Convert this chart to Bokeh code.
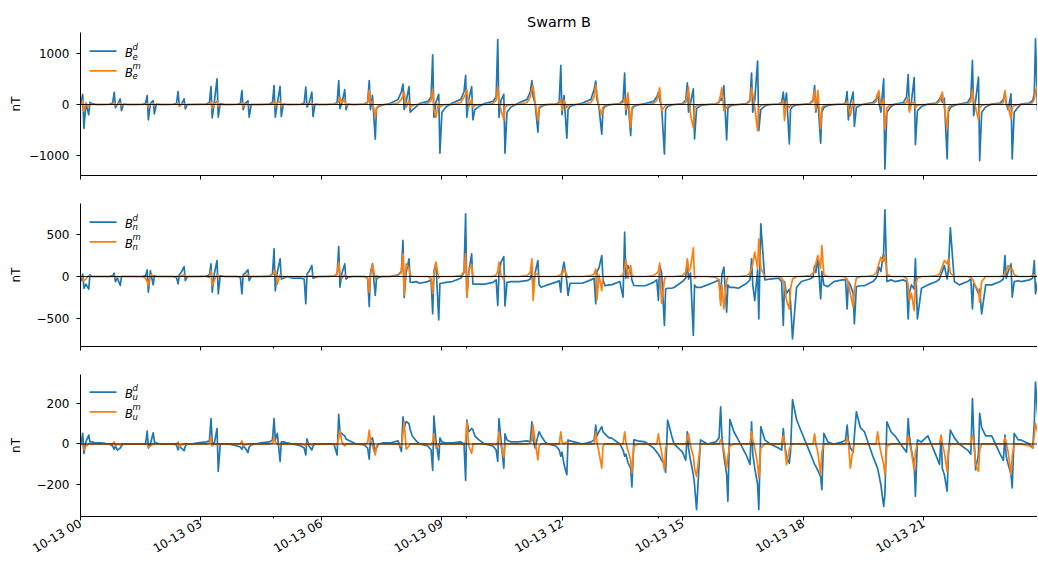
import math
from bokeh.plotting import figure
from bokeh.layouts import column
from bokeh.models import Range1d, FixedTicker, Label, Span, Arrow
from bokeh.embed import file_html
from bokeh.resources import INLINE

# ---------------- data ----------------
# time of the first spike of each polar pass, hours after 10-13 00:00
event_hours = [0.055, 0.84, 1.66, 2.43, 3.25, 4.02, 4.82, 5.61, 6.43, 7.19,
               8.03, 8.77, 9.59, 10.39, 11.24, 11.96, 12.83, 13.55, 14.39, 15.11,
               15.94, 16.71, 17.50, 18.28, 19.09, 19.85, 20.61, 21.43, 22.21, 23.02,
               23.75]
# sample times within a pass, hours relative to the first spike
offsets = [-0.33, -0.12, -0.04, 0.00, 0.03, 0.08, 0.15, 0.18, 0.23, 0.33]

be_d = [
    [0, 10, 40, 200, -470, 30, -200, 40, 20, 0],
    [0, 5, 30, 240, -60, 0, 110, -120, 10, 0],
    [0, 5, 20, 176, -300, 20, 78, -183, 10, 0],
    [0, 5, 20, 255, -20, 0, 111, -85, 0, 0],
    [5, 10, 40, 353, -261, 30, 503, -248, 20, 0],
    [0, 5, 20, 274, -100, 20, 70, -248, 0, 0],
    [0, 10, 40, 372, -248, 20, 353, -235, 10, 0],
    [0, 5, 30, 340, -50, 20, 242, -235, 10, 0],
    [0, 10, 40, 470, -80, 30, 290, -100, 10, 0],
    [0, 10, 50, 470, -100, 180, -680, -80, -40, -10],
    [20, 100, 250, 400, -100, 60, 350, -150, -110, -40],
    [20, 60, 150, 974, -250, 40, 200, -954, -150, -50],
    [30, 100, 250, 570, -250, 100, 350, -300, -100, -40],
    [20, 60, 150, 1270, -250, 80, 200, -954, -150, -50],
    [30, 100, 250, 470, 150, 20, -540, -80, -40, -10],
    [0, 10, 40, 765, -200, 176, -660, -100, -40, -10],
    [30, 100, 300, 460, 100, -50, -580, -100, -40, -10],
    [0, 20, 80, 614, -200, 150, -608, -100, -40, -10],
    [20, 60, 150, 242, 100, -50, -970, -100, -40, -10],
    [0, 20, 80, 425, -150, 30, 307, -673, -80, -20],
    [0, 10, 50, 111, 80, 372, -693, -80, -30, -10],
    [0, 20, 80, 614, -150, 100, 850, -510, -100, -30],
    [0, 10, 40, 242, -60, 222, -771, -100, -40, -10],
    [0, 20, 80, 372, -150, 100, -758, -150, -60, -20],
    [0, 10, 30, 255, -300, 20, 242, -431, -60, -10],
    [10, 40, 100, 209, 50, -150, 503, -1261, -150, -40],
    [10, 40, 150, 588, -100, 50, 529, -784, -120, -40],
    [10, 30, 100, 176, 40, 120, -1065, -150, -60, -20],
    [10, 40, 150, 863, -216, 80, 536, -1098, -150, -50],
    [10, 30, 100, 242, 20, -100, 209, -1065, -150, -50],
    [10, 30, 80, 200, 1288, -118, 0, 0, 0, 0],
]
be_m = [
    [0, 0, 10, 80, -130, 20, -40, 10, 0, 0],
    [0, 0, 10, 40, -20, 0, 30, -30, 0, 0],
    [0, 0, 5, 20, -60, 0, 20, -20, 0, 0],
    [0, 0, 5, 30, -40, 0, 10, -20, 0, 0],
    [0, 0, 10, 60, -80, 0, 70, -40, 0, 0],
    [0, 0, 5, 40, -50, 0, 20, -20, 0, 0],
    [0, 0, 10, 60, -40, 30, 60, -40, 0, 0],
    [0, 0, 5, 20, -10, 0, 30, -20, 0, 0],
    [0, 5, 20, 60, 150, 40, 100, -30, 0, 0],
    [0, 5, 30, 280, 20, 60, -250, -80, -20, 0],
    [0, 30, 100, 180, 250, -50, 80, -60, -20, 0],
    [0, 20, 80, 300, -100, -250, 50, -50, -20, 0],
    [0, 40, 150, 200, 300, -50, 100, -50, -20, 0],
    [0, 20, 80, 350, 50, -100, -300, -50, -20, 0],
    [0, 40, 150, 300, 372, 50, -314, -50, -20, 0],
    [0, 0, 20, 100, -118, 80, -60, -20, 0, 0],
    [0, 40, 150, 380, 200, -50, -200, -50, -20, 0],
    [0, 10, 40, 120, -100, 230, -444, -60, -20, 0],
    [0, 20, 80, 200, 327, -118, -50, -20, 0, 0],
    [0, 10, 40, 200, 340, -200, -457, -60, -20, 0],
    [0, 10, 40, 200, 327, -118, -60, -20, 0, 0],
    [0, 10, 60, 327, 200, -50, -510, -60, -20, 0],
    [0, 5, 20, 80, -314, 60, -60, -20, 0, 0],
    [0, 10, 60, 274, -100, 274, -477, -60, -20, 0],
    [0, 5, 20, 60, -50, -216, 60, -40, 0, 0],
    [0, 10, 60, 200, 274, -30, 100, -477, -60, 0],
    [0, 10, 40, 144, -150, 30, 40, -60, -20, 0],
    [0, 10, 60, 150, 242, -50, -477, -60, -20, 0],
    [0, 10, 60, 288, 80, -60, -300, -60, -20, 0],
    [0, 10, 40, 274, 30, -40, -281, -50, -20, 0],
    [0, 10, 40, 100, 250, 372, 0, 0, 0, 0],
]
bn_d = [
    [0, 0, -50, 30, -140, -90, -150, 20, 0, 0],
    [0, 0, 10, 40, -60, -20, -107, 0, 0, 0],
    [0, 0, 10, 79, -187, 70, -100, 10, 0, 0],
    [0, 0, -10, -87, 20, 50, 119, -50, 0, 0],
    [0, 5, 20, 150, -186, 30, 190, -206, 10, 0],
    [0, 0, -10, -206, 20, 40, 79, -50, 0, 0],
    [0, 5, 30, 329, -170, 50, 210, -30, -20, 0],
    [-20, -20, -30, -325, 30, 60, 131, -20, -10, 0],
    [0, 5, 30, 357, -127, 40, 150, -30, -10, 0],
    [0, 0, -20, -357, 40, 151, -226, -30, -10, 0],
    [0, 20, 60, 429, -250, 50, 210, -67, -70, -60],
    [-80, -60, -40, -444, 60, 160, -516, -80, -80, -70],
    [-60, -20, 50, 746, -246, 60, 270, -90, -90, -90],
    [-90, -70, -40, -345, 40, 170, 238, -350, -70, -60],
    [-60, -50, -30, 60, -120, 40, 190, -100, -127, -110],
    [-100, -67, -50, -187, 50, 170, -60, -226, -80, -80],
    [-80, -40, -20, -325, 60, 100, 250, -40, -110, -100],
    [-100, -60, -246, 528, -20, 130, 60, -40, -107, -110],
    [-110, -70, -40, -286, 131, 50, -583, -150, -140, -140],
    [-130, -60, -20, 190, -30, 40, -702, -100, -130, -130],
    [-100, -60, -40, -286, 20, 111, -425, -100, -130, -130],
    [-140, -80, -40, 210, -100, -286, 80, -504, 627, -40],
    [-30, -20, -60, -583, -60, -200, -150, -300, -742, -130],
    [-60, -30, -10, 131, 50, 230, -266, 60, -100, -120],
    [-60, -40, -40, -385, -60, -100, -200, -563, -120, -110],
    [-110, -60, -20, 30, 111, 60, 290, 794, -60, -40],
    [-60, -40, -60, -504, -200, -100, -150, 210, -504, -140],
    [-100, -60, -30, 30, 60, 131, -30, 80, 579, -60],
    [-100, -60, -30, -385, -80, -120, -200, -150, -444, -100],
    [-100, -60, -30, 250, -20, 60, 150, -246, -60, -50],
    [-60, -40, -20, 190, -206, -60, -40, 0, 0, 0],
]
bn_m = [
    [0, 0, -10, -20, -50, -30, 10, 0, 0, 0],
    [0, 0, 0, 5, -10, 0, -5, 0, 0, 0],
    [0, 0, -20, -60, -107, 20, 10, 0, 0, 0],
    [0, 0, 0, 10, -10, 10, 20, 0, 0, 0],
    [0, 0, -10, 70, -107, -50, 30, 10, 0, 0],
    [0, 0, 0, -10, 0, 10, 20, 0, 0, 0],
    [0, 0, 20, 40, 80, -90, 20, 0, 0, 0],
    [0, 0, 0, -10, 0, 5, 10, 0, 0, 0],
    [0, 5, 30, 170, 30, -20, 20, 0, 0, 0],
    [0, 0, -20, -187, 20, 140, -30, 10, 0, 0],
    [0, 10, 50, 270, -226, 150, 100, 20, 0, 0],
    [0, 0, -20, -200, 40, 170, -20, 0, 0, 0],
    [0, 10, 60, 270, -246, 80, 140, 10, 0, 0],
    [0, 0, 20, 60, 170, 20, -40, 10, 0, 0],
    [0, 10, 50, 210, -286, 40, 20, 0, 0, 0],
    [0, 0, 10, 30, 20, 91, 20, -10, 0, 0],
    [0, 10, 30, 90, -278, 20, -167, 0, 0, 0],
    [0, 0, 20, 100, 198, -20, 131, 20, 0, 0],
    [0, 10, 40, 60, 159, -317, -40, 0, 0, 0],
    [0, 10, 50, 210, 60, 100, 341, -20, 0, 0],
    [0, -10, -40, -345, -100, -385, -50, 0, 0, 0],
    [0, 10, 40, 100, 150, 290, 100, 448, 100, 0],
    [0, 0, -20, -50, -100, -286, -385, -150, -30, 0],
    [0, 10, 40, 80, 150, 250, 100, 369, 20, 0],
    [0, 0, -10, -30, -80, -206, -365, -150, -20, 0],
    [0, 10, 40, 100, 150, 230, 180, 262, 30, 0],
    [0, 0, -20, -100, -286, -200, -405, -100, -20, 0],
    [0, 10, 30, 80, 120, 190, 150, 210, 40, 0],
    [0, 0, -10, -30, -60, -120, -167, -306, -60, 0],
    [0, 0, 10, 30, 60, 131, 80, 91, 20, 0],
    [0, 0, 10, 20, 10, 0, 0, 0, 0, 0],
]
bu_d = [
    [0, 0, 0, 52, -46, 10, 44, 10, 10, 5],
    [5, 0, -10, -26, -10, -30, -20, -10, 0, 0],
    [0, 0, 0, 63, -20, 0, 55, 10, 5, 0],
    [0, 0, -5, -29, -10, -20, -33, -10, 0, 0],
    [5, 10, 15, 125, 10, 0, 76, -135, 0, 0],
    [0, -10, -15, -26, -10, -20, -42, -15, -5, 0],
    [5, 10, 20, 125, 20, 52, -86, 10, 10, 5],
    [0, -10, -20, -54, 25, -10, -30, -10, 0, 0],
    [0, 0, -54, 145, 60, 50, 40, 25, 20, 10],
    [0, -5, -20, -75, 20, 30, -40, -20, 0, 5],
    [5, 15, -37, 133, 80, 110, 100, 70, 40, 15],
    [0, -10, -30, -130, 137, 20, -78, 30, 10, 5],
    [5, 10, 0, -179, 117, 60, 76, 70, 40, 20],
    [0, -10, -30, -86, 125, 20, -119, 50, 20, 10],
    [10, 15, 10, 109, 20, -20, 40, 60, 40, 10],
    [0, -10, -30, -60, -40, -100, -151, 20, 15, 10],
    [0, 10, 20, 93, 40, 60, 85, 60, 50, 30],
    [30, 0, -30, -60, -50, -90, -120, -211, 20, 15],
    [10, -20, -40, -50, -60, -80, -100, -140, 117, 40],
    [0, -40, -80, 60, -20, -80, -150, -200, -322, 20],
    [0, 10, 30, 182, 40, -60, -150, -281, 120, 60],
    [20, -60, -100, 109, -50, -120, -200, -322, 85, 20],
    [0, -20, -30, 76, 0, -60, -94, -40, 218, 120],
    [60, -40, -80, -100, -110, -130, -160, -224, 52, 10],
    [0, 10, 20, 93, 20, -20, -40, 40, 158, 80],
    [60, -60, -100, -120, -150, -200, -306, -250, 109, 60],
    [40, -20, -40, 125, 40, -30, -100, -257, 20, 10],
    [40, -60, -100, 40, -120, -150, -232, -60, 68, 30],
    [0, -30, -50, 223, 60, -127, -50, 150, 80, 40],
    [40, -50, -80, 44, -60, -100, -150, -216, 52, 20],
    [20, 0, -20, 100, 304, 150, 0, 0, 0, 0],
]
bu_m = [
    [0, 0, 0, -5, -29, -10, 0, 0, 0, 0],
    [0, 0, 0, 10, -10, 0, -5, 0, 0, 0],
    [0, 0, 0, 0, -16, -10, 0, 0, 0, 0],
    [0, 0, 0, 10, -16, -5, 0, 0, 0, 0],
    [0, 0, 5, 33, -10, 0, -5, 0, 0, 0],
    [0, 0, 0, 15, -10, -5, 0, 0, 0, 0],
    [0, 0, 5, 33, 10, 0, -5, 0, 0, 0],
    [0, 0, -5, -10, 5, 0, -5, 0, 0, 0],
    [0, 0, -5, 30, 68, 10, -10, 0, 0, 0],
    [0, 0, 5, 68, 20, -10, -54, -10, 0, 0],
    [0, 0, -10, 50, 109, -26, -10, 0, 0, 0],
    [0, 0, -5, 10, 49, -20, -5, 0, 0, 0],
    [0, 0, 0, 10, 109, -10, -46, 0, 0, 0],
    [0, 0, -5, 10, 60, -10, -65, 0, 0, 0],
    [0, 0, 5, 20, 93, 10, -78, -10, 0, 0],
    [0, 0, 0, 60, 10, 0, 10, 0, 0, 0],
    [0, 0, 0, 60, 10, -40, -119, -10, 0, 0],
    [0, 0, 0, 60, 10, -30, -80, -143, -10, 0],
    [0, 0, 0, 50, 10, -40, -127, -20, 0, 0],
    [0, 0, 0, 30, 50, -10, -60, -120, -159, 0],
    [0, 0, 0, 20, 10, -30, -119, -60, -10, 0],
    [0, 0, 0, 60, 20, -20, -100, -167, -20, 0],
    [0, 0, 0, 40, 10, -102, -30, -10, 0, 0],
    [0, 0, 0, 50, 0, -40, -151, -40, 0, 0],
    [0, 0, 0, 30, 10, -119, -20, 0, 0, 0],
    [0, 0, 0, 60, 10, -40, -100, -151, -10, 0],
    [0, 0, 0, 40, 10, -40, -127, -40, 0, 0],
    [0, 0, 0, 44, 0, -40, -135, -30, 0, 0],
    [0, 0, 0, 44, 20, -100, -135, -30, 0, 0],
    [0, 0, 0, 30, 10, -40, -151, -60, 0, 0],
    [0, -10, -20, 40, 100, 60, 0, 0, 0, 0],
]

x_tick_hours = [0, 3, 6, 9, 12, 15, 18, 21]
x_tick_labels = ["10-13 00", "10-13 03", "10-13 06", "10-13 09",
                 "10-13 12", "10-13 15", "10-13 18", "10-13 21"]
x_minor_hours = [4.8, 9.6, 14.4, 19.2]
title_text = "Swarm B"
y_unit = "nT"

# ---------------- build ----------------
hours = [c + o for c in event_hours for o in offsets]


def flat(rows):
    return [v for r in rows for v in r]


FONT = "DejaVu Sans"
BLUE = "#1f77b4"
ORANGE = "#ff7f0e"
WIDTH = 1037
FRAME_H = 143
x_range = Range1d(0, 23.83)


def style_axis(ax):
    ax.axis_line_color = "black"
    ax.axis_line_width = 1
    ax.major_tick_line_color = "black"
    ax.major_tick_out = 4
    ax.major_tick_in = 0
    ax.minor_tick_line_color = "black"
    ax.minor_tick_out = 2
    ax.minor_tick_in = 0
    ax.major_label_text_font = FONT
    ax.major_label_text_font_size = "12px"
    ax.major_label_text_color = "black"


def panel(top, bottom, yr, yticks, ylabels, d, m, comp, ylab_standoff,
          title=None, last=False):
    p = figure(width=WIDTH, height=top + FRAME_H + bottom, x_range=x_range,
               y_range=Range1d(*yr), output_backend="svg", toolbar_location=None,
               min_border_left=80, min_border_right=0,
               min_border_top=top, min_border_bottom=bottom)
    p.outline_line_color = None
    p.grid.visible = False
    p.background_fill_color = "white"
    if title:
        p.title.text = title
        p.title.align = "center"
        p.title.text_font = FONT
        p.title.text_font_size = "14.4px"
        p.title.text_font_style = "normal"
        p.title.text_color = "black"
        p.title.standoff = 6
    p.line(hours, flat(d), line_color=BLUE, line_width=1.7, line_join="round")
    p.line(hours, flat(m), line_color=ORANGE, line_width=1.7, line_join="round")
    p.add_layout(Span(location=0, dimension="width", line_color="black", line_width=0.9))

    style_axis(p.yaxis[0])
    p.yaxis.ticker = FixedTicker(ticks=yticks, minor_ticks=[])
    p.yaxis.major_label_overrides = {t: s for t, s in zip(yticks, ylabels)}
    p.yaxis.major_label_standoff = 7
    p.yaxis.axis_label = y_unit
    p.yaxis.axis_label_text_font = FONT
    p.yaxis.axis_label_text_font_size = "12px"
    p.yaxis.axis_label_text_font_style = "normal"
    p.yaxis.axis_label_text_color = "black"
    p.yaxis.axis_label_standoff = ylab_standoff

    style_axis(p.xaxis[0])
    p.xaxis.ticker = FixedTicker(ticks=x_tick_hours, minor_ticks=x_minor_hours)
    if last:
        p.xaxis.major_label_overrides = {t: s for t, s in zip(x_tick_hours, x_tick_labels)}
        p.xaxis.major_label_orientation = math.pi / 6
        p.xaxis.major_label_standoff = 2
    else:
        p.xaxis.major_label_overrides = {t: "" for t in x_tick_hours}
        p.xaxis.major_label_text_font_size = "0px"
        p.xaxis.major_label_standoff = 0

    # legend drawn in screen units relative to the plot frame (no frame box)
    for row, (sup, col) in enumerate([("d", BLUE), ("m", ORANGE)]):
        yline = FRAME_H - 18.7 - 19.6 * row
        p.add_layout(Arrow(end=None, x_start=9, y_start=yline, x_end=36, y_end=yline,
                           start_units="screen", end_units="screen",
                           line_color=col, line_width=1.7))
        p.add_layout(Label(x=44.5, y=yline - 2, x_units="screen", y_units="screen", text="B",
                           text_font=FONT, text_font_style="italic", text_font_size="11.5px",
                           text_baseline="middle", text_color="black"))
        p.add_layout(Label(x=52, y=yline + 4.7, x_units="screen", y_units="screen", text=sup,
                           text_font=FONT, text_font_style="italic", text_font_size="8.5px",
                           text_baseline="middle", text_color="black"))
        p.add_layout(Label(x=52, y=yline - 5, x_units="screen", y_units="screen", text=comp,
                           text_font=FONT, text_font_style="italic", text_font_size="8.5px",
                           text_baseline="middle", text_color="black"))
    return p


p1 = panel(32, 14, (-1390, 1410), [-1000, 0, 1000], ["\u22121000", "0", "1000"],
           be_d, be_m, "e", 3, title=title_text)
p2 = panel(14, 14, (-833, 869), [-500, 0, 500], ["\u2212500", "0", "500"],
           bn_d, bn_m, "n", 11)
p3 = panel(14, 47, (-356, 341), [-200, 0, 200], ["\u2212200", "0", "200"],
           bu_d, bu_m, "u", 11, last=True)

layout = column(p1, p2, p3)
open("out.html", "w").write(file_html(layout, INLINE, title="Swarm B"))
